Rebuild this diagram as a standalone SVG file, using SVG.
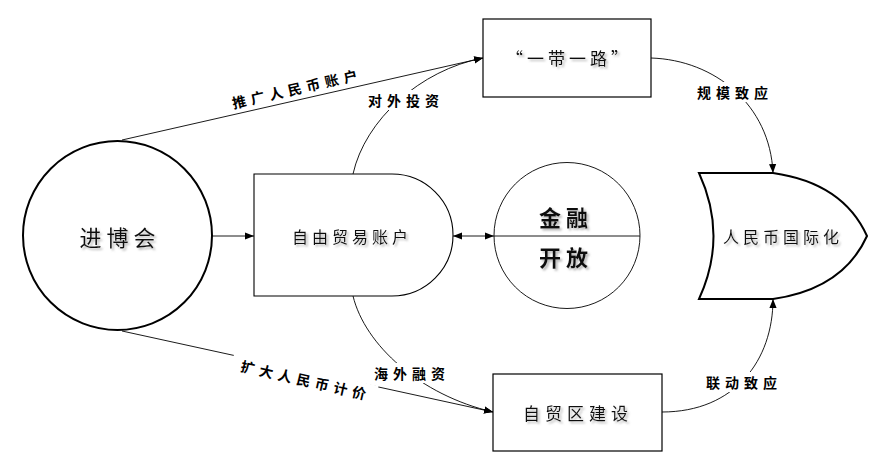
<svg xmlns="http://www.w3.org/2000/svg" width="894" height="465" viewBox="0 0 894 465">
<style>
.n{font-family:"Noto Sans CJK SC","Liberation Sans",sans-serif;fill:#111;text-anchor:middle;dominant-baseline:central}
.l{font-family:"Noto Sans CJK SC","Liberation Sans",sans-serif;fill:#000;font-size:14px;font-weight:bold;text-anchor:middle;dominant-baseline:central;letter-spacing:5px}
.c{fill:none;stroke:#000;stroke-width:0.9}
.bg{fill:#fff}
</style>
<defs>
<marker id="a" viewBox="0 0 10 10" refX="10" refY="5" markerWidth="9" markerHeight="9" markerUnits="userSpaceOnUse" orient="auto-start-reverse"><path d="M0,1 L10,5 L0,9 Z" fill="#000"/></marker>
<filter id="sh" x="-10%" y="-20%" width="130%" height="160%"><feDropShadow dx="2" dy="2" stdDeviation="1.2" flood-color="#888" flood-opacity="0.6"/></filter>
</defs>
<rect width="894" height="465" fill="#fff"/>
<g id="connectors">
<path class="c" d="M122,140 L483,58" marker-end="url(#a)"/>
<path class="c" d="M353,174 C365,120 420,70 483,58" marker-end="url(#a)"/>
<path class="c" d="M122,331 L493,412" marker-end="url(#a)"/>
<path class="c" d="M353,296 C365,345 420,395 493,412" marker-end="url(#a)"/>
<path class="c" d="M212,236 L254,236" marker-end="url(#a)"/>
<path class="c" d="M453,236 L494,236" marker-start="url(#a)" marker-end="url(#a)"/>
<path class="c" d="M651,58 C715,60 770,105 773,173" marker-end="url(#a)"/>
<path class="c" d="M662,412 C735,412 773,360 773,299" marker-end="url(#a)"/>
</g>
<g id="labels">
<text class="l" transform="translate(297,88) rotate(-13)">推广人民币账户</text>
<rect class="bg" x="362" y="90" width="84" height="20"/>
<text class="l" x="406" y="100">对外投资</text>
<rect class="bg" x="690" y="82" width="86" height="20"/>
<text class="l" x="735" y="92">规模致应</text>
<rect class="bg" transform="translate(304,380) rotate(13)" x="-74" y="-11" width="148" height="22"/>
<text class="l" transform="translate(306,380) rotate(13)">扩大人民币计价</text>
<rect class="bg" x="367" y="363" width="84" height="20"/>
<text class="l" x="412" y="373">海外融资</text>
<rect class="bg" x="699" y="372" width="86" height="20"/>
<text class="l" x="744" y="382">联动致应</text>
</g>
<g id="expo">
<circle cx="117.5" cy="235.5" r="94.5" fill="#fff" stroke="#000" stroke-width="2"/>
<text class="n" x="120" y="236" font-size="22" letter-spacing="5" filter="url(#sh)">进博会</text>
</g>
<g id="ftaccount">
<path d="M254,174 L392,174 A61,61 0 0 1 392,296 L254,296 Z" fill="#fff" stroke="#000" stroke-width="1.1"/>
<text class="n" x="352" y="236" font-size="16" letter-spacing="4" filter="url(#sh)">自由贸易账户</text>
</g>
<g id="finance">
<circle cx="567" cy="235.5" r="73" fill="#fff" stroke="#000" stroke-width="0.9"/>
<line x1="494" y1="236" x2="640" y2="236" stroke="#000" stroke-width="0.9"/>
<text class="n" x="566" y="216" font-size="22" font-weight="bold" letter-spacing="5" filter="url(#sh)">金融</text>
<text class="n" x="566" y="256" font-size="22" font-weight="bold" letter-spacing="5" filter="url(#sh)">开放</text>
</g>
<g id="beltroad">
<rect x="483" y="19" width="168" height="78" fill="#fff" stroke="#000" stroke-width="1.2"/>
<text class="n" x="569" y="57" font-size="17" letter-spacing="4" filter="url(#sh)">“一带一路”</text>
</g>
<g id="rmb">
<path d="M699,173 L773,173 Q843,183 867,236 Q843,289 773,299 L699,299 Q728,236 699,173 Z" fill="#fff" stroke="#000" stroke-width="2"/>
<text class="n" x="783" y="236" font-size="16" letter-spacing="4" filter="url(#sh)">人民币国际化</text>
</g>
<g id="ftz">
<rect x="493" y="374" width="169" height="77" fill="#fff" stroke="#000" stroke-width="1.2"/>
<text class="n" x="578" y="412" font-size="17" letter-spacing="5" filter="url(#sh)">自贸区建设</text>
</g>
</svg>
